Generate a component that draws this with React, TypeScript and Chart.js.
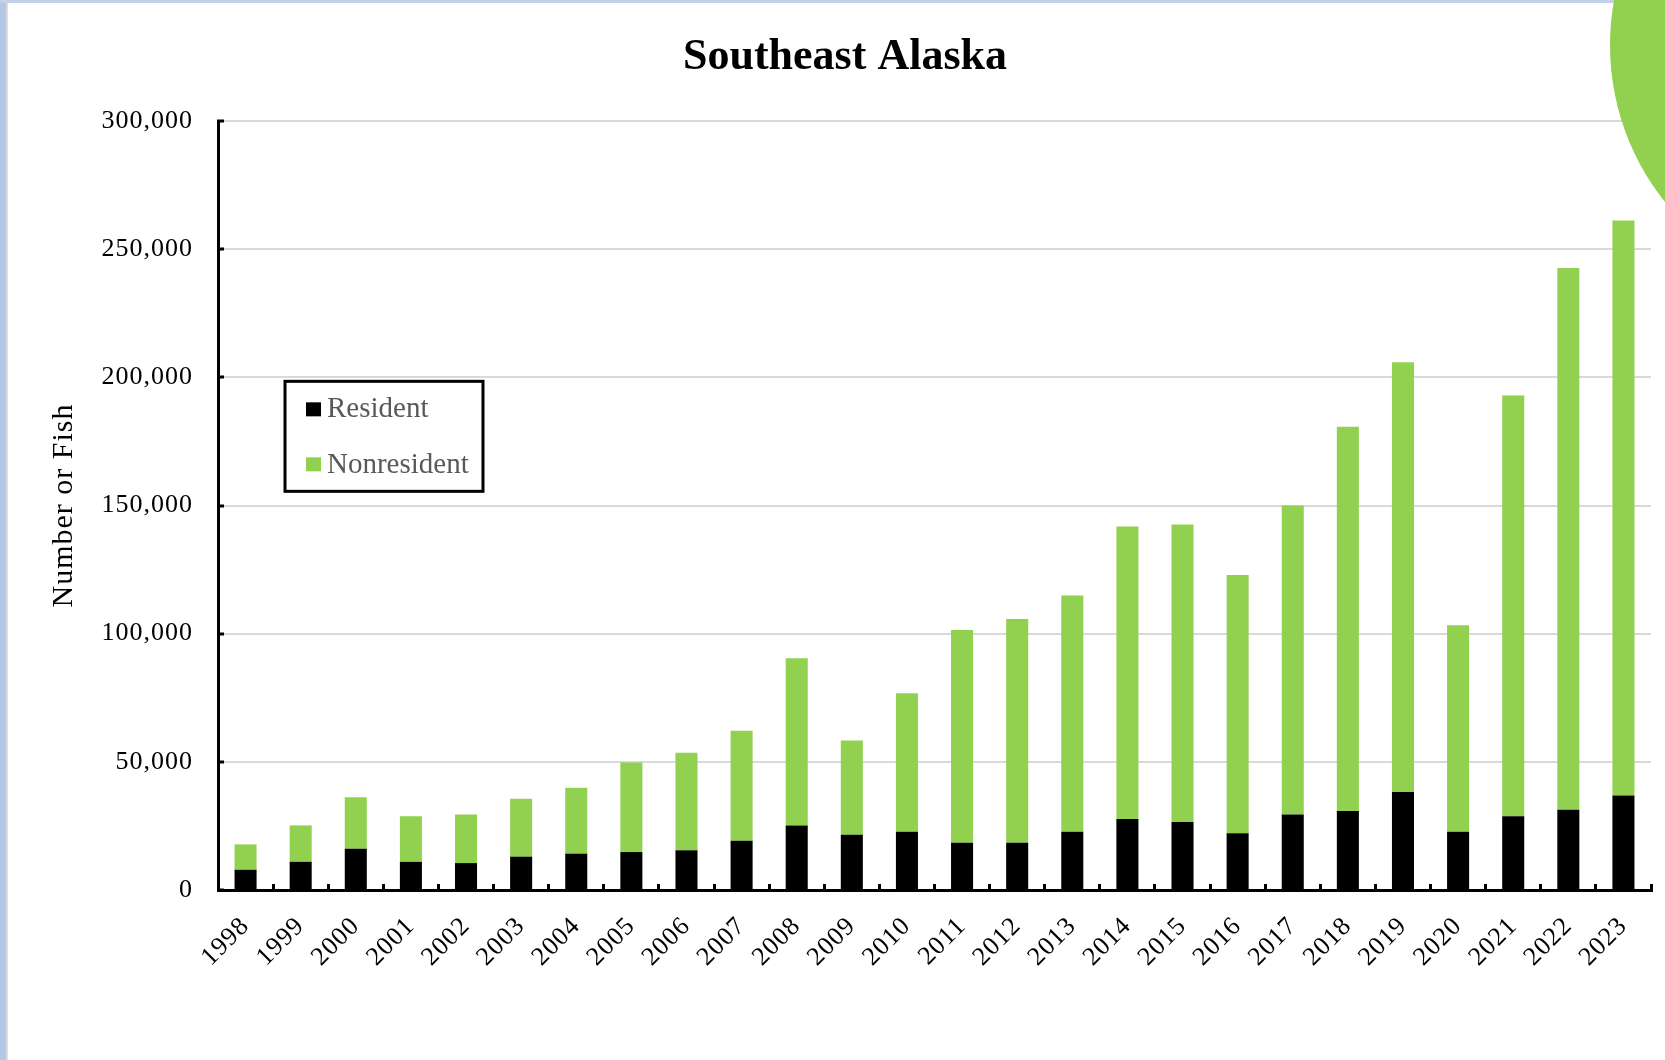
import React, { useEffect, useRef } from 'react';
import { Chart, registerables } from 'chart.js';

Chart.register(...registerables);

const chartTitle = 'Southeast Alaska';
const yAxisTitle = 'Number or Fish';

const years = [
  '1998', '1999', '2000', '2001', '2002', '2003', '2004', '2005', '2006', '2007',
  '2008', '2009', '2010', '2011', '2012', '2013', '2014', '2015', '2016', '2017',
  '2018', '2019', '2020', '2021', '2022', '2023',
];

const resident = [
  7900, 11000, 16100, 11000, 10500, 13000, 14200, 14800, 15500, 19200,
  25200, 21600, 22700, 18400, 18400, 22700, 27700, 26500, 22100, 29500,
  30800, 38200, 22700, 28800, 31300, 36900,
];

const nonresident = [
  9900, 14200, 20100, 17800, 19000, 22600, 25700, 34900, 38000, 42900,
  65200, 36700, 54100, 83000, 87300, 92200, 114100, 116100, 100800, 120500,
  149900, 167700, 80600, 164100, 211400, 224300,
];

const yMin = 0;
const yMax = 300000;
const yStep = 50000;
const legendAnchorValue = 200000;

const W = 1665;
const H = 1060;
const SERIF = '"Liberation Serif", "Times New Roman", serif';

export default function App() {
  const ref = useRef<HTMLCanvasElement | null>(null);

  useEffect(() => {
    const canvas = ref.current;
    if (!canvas) return;

    const spacingPlugin = {
      id: 'spacing',
      beforeLayout(chart: any) {
        chart.ctx.letterSpacing = '1px';
      },
      beforeDraw(chart: any) {
        chart.ctx.letterSpacing = '1px';
      },
    };

    const overlayPlugin = {
      id: 'overlay',
      afterDraw(chart: any) {
        const ctx = chart.ctx;
        const left = chart.chartArea.left;
        const yScale = chart.scales.y;
        ctx.save();
        ctx.letterSpacing = '0px';

        // Title
        ctx.font = `bold 44px ${SERIF}`;
        ctx.fillStyle = '#000';
        ctx.textAlign = 'center';
        ctx.textBaseline = 'alphabetic';
        ctx.fillText(chartTitle, 845, 69);

        // Legend
        const ref200 = yScale.getPixelForValue(legendAnchorValue);
        const bx = left + 67;
        const by = ref200 + 4;
        const bw = 198;
        const bh = 110;
        ctx.fillStyle = '#fff';
        ctx.fillRect(bx, by, bw, bh);
        ctx.lineWidth = 3;
        ctx.strokeStyle = '#000';
        ctx.strokeRect(bx, by, bw, bh);
        ctx.font = `29px ${SERIF}`;
        ctx.textAlign = 'left';
        ctx.textBaseline = 'alphabetic';
        chart.data.datasets.forEach((ds: any, i: number) => {
          const rowTop = ref200 + 25 + i * 55;
          ctx.fillStyle = ds.backgroundColor;
          ctx.fillRect(left + 88, rowTop, 15, 14);
          ctx.fillStyle = '#595959';
          ctx.fillText(ds.label, left + 109, ref200 + 40 + i * 56);
        });
        ctx.restore();
      },
    };

    const chart = new Chart(canvas, {
      type: 'bar',
      data: {
        labels: years,
        datasets: [
          {
            label: 'Resident',
            data: resident,
            backgroundColor: '#000000',
            borderWidth: 0,
            categoryPercentage: 1,
            barPercentage: 0.4,
          },
          {
            label: 'Nonresident',
            data: nonresident,
            backgroundColor: '#92D050',
            borderWidth: 0,
            categoryPercentage: 1,
            barPercentage: 0.4,
          },
        ],
      },
      options: {
        responsive: false,
        maintainAspectRatio: false,
        devicePixelRatio: 1,
        animation: false,
        events: [],
        layout: { padding: { top: 121, right: 14, left: 0, bottom: 0 } },
        plugins: {
          legend: { display: false },
          title: { display: false },
          tooltip: { enabled: false },
        },
        scales: {
          x: {
            stacked: true,
            z: 1,
            offset: true,
            afterFit(scale: any) {
              scale.height = 170;
              scale.paddingLeft = 0;
              scale.paddingRight = 0;
            },
            grid: {
              display: true,
              drawOnChartArea: false,
              drawTicks: true,
              offset: true,
              tickLength: -6,
              tickWidth: 3,
              tickColor: '#000',
            },
            border: { display: true, color: '#000', width: 3 },
            ticks: {
              autoSkip: false,
              minRotation: 45,
              maxRotation: 45,
              padding: 27,
              color: '#000',
              font: { family: SERIF, size: 26 },
            },
          },
          y: {
            stacked: true,
            min: yMin,
            max: yMax,
            afterFit(scale: any) {
              scale.width = 218;
            },
            grid: {
              color: (c: any) => (c.tick && c.tick.value === 0 ? 'rgba(0,0,0,0)' : '#d9d9d9'),
              lineWidth: 2,
              drawTicks: true,
              tickLength: -6,
              tickWidth: 3,
              tickColor: '#000',
            },
            border: { display: true, color: '#000', width: 3 },
            ticks: {
              stepSize: yStep,
              padding: 31,
              color: '#000',
              font: { family: SERIF, size: 26 },
              callback: (v: any) => Number(v).toLocaleString('en-US'),
            },
            title: {
              display: true,
              text: yAxisTitle,
              color: '#000',
              font: { family: SERIF, size: 30, lineHeight: 1.2 },
              padding: { top: 46, bottom: 0 },
            },
          },
        },
      },
      plugins: [spacingPlugin, overlayPlugin],
    } as any);

    return () => {
      chart.destroy();
    };
  }, []);

  return (
    <div
      style={{
        position: 'fixed',
        left: 0,
        top: 0,
        width: W,
        height: H,
        overflow: 'hidden',
        background: '#fff',
      }}
    >
      <canvas
        ref={ref}
        width={W}
        height={H}
        style={{ position: 'absolute', left: 0, top: 0, width: W, height: H }}
      />
      <div style={{ position: 'absolute', left: 0, top: 0, width: 6, height: H, background: '#b4c7e7' }} />
      <div style={{ position: 'absolute', left: 6, top: 0, width: 2, height: H, background: '#dcdcdc' }} />
      <div style={{ position: 'absolute', left: 0, top: 0, width: W, height: 3, background: '#c3d2ea' }} />
      <div
        style={{
          position: 'absolute',
          left: 1610,
          top: -207,
          width: 504,
          height: 504,
          borderRadius: '50%',
          background: '#92D050',
        }}
      />
    </div>
  );
}
